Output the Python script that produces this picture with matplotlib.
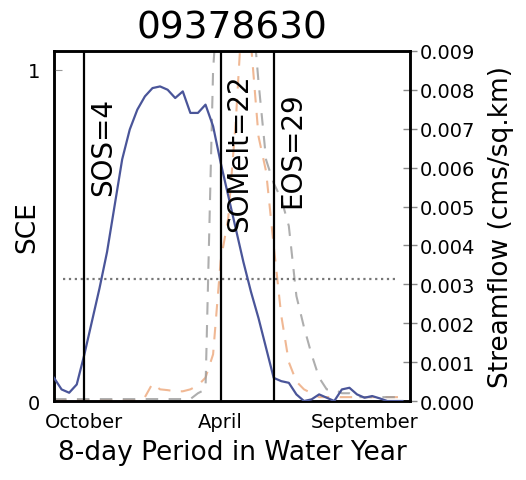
import numpy as np
import matplotlib
matplotlib.use("Agg")
import matplotlib.pyplot as plt

title = "09378630"
periods = np.arange(0, 47)
sce = [0.07, 0.035, 0.025, 0.05, 0.14, 0.24, 0.34, 0.45, 0.59, 0.73,
       0.82, 0.88, 0.92, 0.945, 0.95, 0.94, 0.915, 0.935, 0.87, 0.87,
       0.895, 0.83, 0.72, 0.62, 0.52, 0.42, 0.33, 0.25, 0.16, 0.07,
       0.06, 0.055, 0.02, 0.0, 0.005, 0.02, 0.01, 0.0, 0.035, 0.04,
       0.02, 0.01, 0.015, 0.008, 0.0, 0.0, 0.0]
flow_orange = [0.00002] * 12 + [0.0001, 0.00045, 0.0003, 0.00028, 0.00025, 0.00025,
               0.0003, 0.0004, 0.0006, 0.0012, 0.0036, 0.0047, 0.0072, 0.0105,
               0.0092, 0.0068, 0.0059, 0.004, 0.0022, 0.001, 0.0005, 0.0003,
               0.0002, 0.0001, 0.0001, 0.0001, 0.0001, 0.0001, 0.0001, 0.0001,
               0.0001, 0.0001, 0.0001, 0.0001, 0.0001]
flow_grey = [0.00005] * 19 + [0.0002, 0.0003, 0.0085, 0.0115, 0.012, 0.0118, 0.0112,
             0.0105, 0.0082, 0.0062, 0.0056, 0.0052, 0.0045, 0.0027, 0.0019,
             0.0012, 0.0006, 0.0003, 0.0003, 0.0002, 0.0002, 0.0001, 0.0001,
             0.0001, 0.0001, 0.0001, 0.0001, 0.0001]
events = [("SOS=4", 4), ("SOMelt=22", 22), ("EOS=29", 29)]
threshold_flow = 0.00314
xtick_pos = [4, 22, 41]
xtick_labels = ["October", "April", "September"]

fig = plt.figure(figsize=(5.26, 4.81), dpi=100)
ax = fig.add_axes([0.1027, 0.1642, 0.6768, 0.7277])
ax2 = ax.twinx()

ax2.plot(periods, flow_orange, color="#eda77a", lw=1.5, ls=(0, (6, 5)), alpha=0.8)
ax2.plot(periods, flow_grey, color="#9a9a9a", lw=1.5, ls=(0, (6, 5)), alpha=0.8)
ax2.hlines(threshold_flow, 1.2, 45.3, colors="#777777", linestyles=":", lw=1.6)
ax2.set_ylim(0, 0.009)
ax2.set_yticks(np.arange(0, 0.0091, 0.001))
ax2.set_yticklabels([f"{v:.3f}" for v in np.arange(0, 0.0091, 0.001)])
ax2.tick_params(axis="y", direction="inout", length=10, width=1, color="#888888",
                labelsize=14, pad=2)
ax2.set_ylabel("Streamflow (cms/sq.km)", fontsize=19, labelpad=9)

ax.plot(periods, sce, color="#4a5599", lw=1.6, zorder=5)
ax.set_zorder(ax2.get_zorder() + 1)
ax.patch.set_visible(False)
for (label, x), ty in zip(events, [0.77, 0.75, 0.76]):
    ax.axvline(x, color="black", lw=1.6, zorder=6)
    ax.text(x + 2.5, ty, label, rotation=90, ha="center", va="center",
            fontsize=20, zorder=7)

ax.set_xlim(0, 47)
ax.set_ylim(0, 1.057)
ax.set_yticks([0, 1])
ax.set_yticklabels(["0", "1"])
ax.tick_params(axis="y", direction="in", length=6, color="#999999", labelsize=14, pad=10)
ax.set_xticks(xtick_pos)
ax.set_xticklabels(xtick_labels)
ax.tick_params(axis="x", length=0, labelsize=14, pad=8)
ax.set_ylabel("SCE", fontsize=19)
ax.yaxis.set_label_coords(-0.039, 0.5)
ax.set_xlabel("8-day Period in Water Year", fontsize=19, labelpad=6)
ax.set_title(title, fontsize=27, pad=10)
for a in (ax, ax2):
    for s in a.spines.values():
        s.set_linewidth(1.8)
        s.set_color("black")

fig.savefig("out.png", dpi=100)
